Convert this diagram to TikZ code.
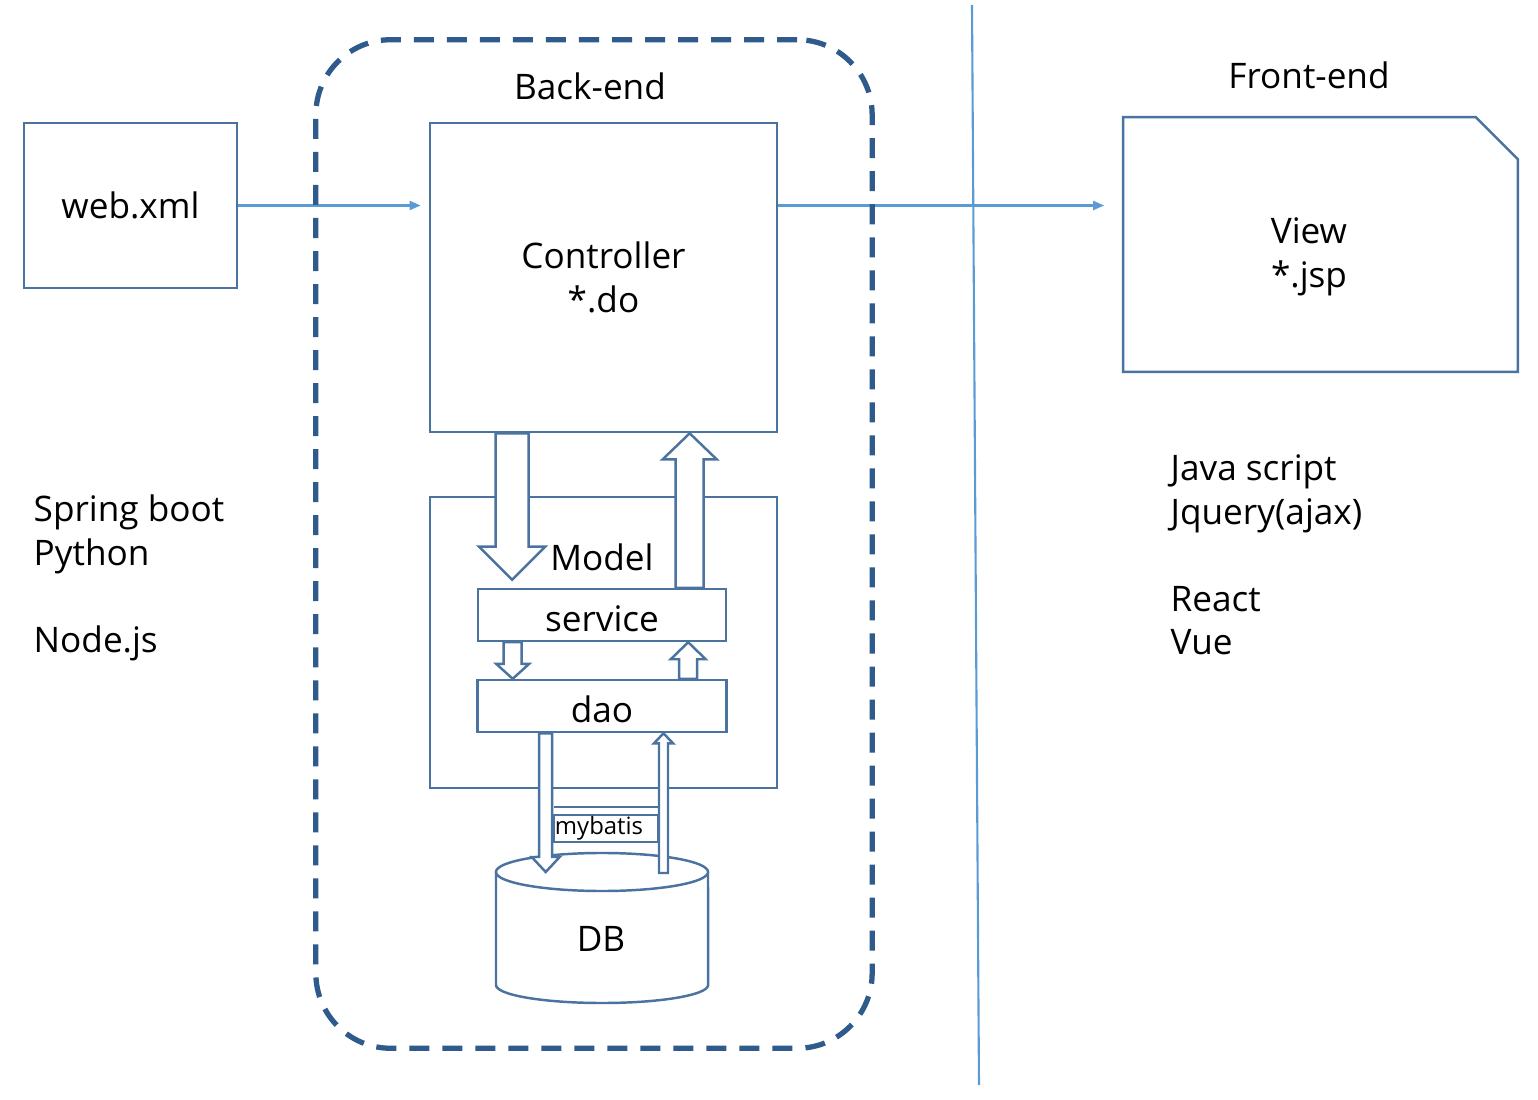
\documentclass[tikz,border=0pt]{standalone}
\usepackage{fontspec}
\setmainfont{Open Sans}
\usepackage{tikz}
\usetikzlibrary{arrows.meta,calc}

\definecolor{boxblue}{HTML}{4A73A0}
\definecolor{lineblue}{HTML}{5B9BD5}
\definecolor{frameblue}{HTML}{2F5A8C}

\tikzset{
  every node/.style={font=\fontsize{10}{12.4}\selectfont},
  outl/.style={draw=boxblue, line width=0.7pt},
  box/.style={outl, fill=white, inner sep=0pt, align=center},
  txt/.style={inner sep=0pt, align=left},
  wire/.style={draw=lineblue, line width=0.6pt, -{Triangle[length=0.11cm,width=0.09cm]}},
  blockarr/.style={outl, fill=white, line join=miter},
  dashframe/.style={draw=frameblue, line width=1.5pt, dash pattern=on 0.2cm off 0.13cm, rounded corners=0.75cm},
}

% hollow block arrow: from, tip, half shaft, half head, head base offset
\newcommand{\blockarrow}[5]{%
  \draw[blockarr] let \p1=(#1), \p2=(#2) in
    (\x1-#3,\y1) -- (\x1-#3,\y2#5) -- (\x1-#4,\y2#5) -- (\x1,\y2)
    -- (\x1+#4,\y2#5) -- (\x1+#3,\y2#5) -- (\x1+#3,\y1) -- cycle;}

\begin{document}
\begin{tikzpicture}[x=0.01cm, y=-0.01cm, node distance = 0.91cm]
  \useasboundingbox (0,0) rectangle (1538,1100);

  \node (Web) [box, minimum width=2.13cm, minimum height=1.65cm] at (130.5,205.5) {web.xml};
  \node (Ctrl) [box, minimum width=3.47cm, minimum height=3.09cm] at (603.5,277.5) {Controller\\*.do};
  \node (Model) [box, minimum width=3.47cm, minimum height=2.91cm] at (603.5,642.5) {};
  \node (ModelTxt) [txt] at (602,557) {Model};
  \node (Svc) [box, minimum width=2.48cm, minimum height=0.52cm, text height=9.2pt, text depth=0pt] at (602,615) {service};
  \node (Dao) [box, below of=Svc, minimum width=2.49cm, minimum height=0.52cm, text height=9.2pt, text depth=0pt] {dao};

  \node (View) [minimum width=3.93cm, minimum height=2.53cm] at (1320.5,244.5) {};
  \draw[outl] (View.south west) -- (View.north west) -- ([xshift=-0.42cm]View.north east)
      -- ([yshift=-0.42cm]View.north east) -- (View.south east) -- cycle;
  \node (ViewTxt) [txt, align=center] at (1309,257) {View\\*.jsp};

  \node (BackEnd) [txt] at (590,86) {Back-end};
  \node (FrontEnd) [txt] at (1309,75) {Front-end};
  \node (Servers) [txt, anchor=west] at (33,578) {Spring boot\\Python\\[12.4pt]Node.js};
  \node (Clients) [txt, anchor=west] at (1170,555) {Java script\\Jquery(ajax)\\[12.4pt]React\\Vue};

  % mybatis layer
  \draw[outl] (554,807) -- (659,807);
  \node (MyB) [box, minimum width=1.04cm, minimum height=0.27cm, text width=1.02cm, align=left,
      inner xsep=0.01cm, font=\fontsize{6.8}{8}\selectfont] at (606,828.5) {mybatis};

  % DB
  \coordinate (DBtop) at (602,872);
  \draw[outl, fill=white] (496,872) -- (496,985)
      arc[start angle=180, end angle=360, x radius=1.06cm, y radius=0.18cm] -- (708,872);
  \draw[outl, fill=white] (DBtop) ellipse [x radius=1.06cm, y radius=0.19cm];
  \node (DB) [txt] at (601,939) {DB};

  \blockarrow{$(Ctrl.south west)+(83.5,0)$}{$(Model.north west)+(83.5,84)$}{0.165cm}{0.33cm}{+0.33cm}
  \blockarrow{$(Svc.north west)+(213,0)$}{$(Ctrl.south west)+(261,0)$}{0.14cm}{0.27cm}{-0.26cm}
  \blockarrow{$(Svc.south west)+(36,0)$}{$(Dao.north west)+(36,0)$}{0.09cm}{0.165cm}{+0.15cm}
  \blockarrow{$(Dao.north west)+(212,0)$}{$(Svc.south west)+(212,0)$}{0.09cm}{0.175cm}{-0.17cm}
  \blockarrow{$(Dao.south west)+(69.5,0)$}{$(DBtop)+(-54.5,0)$}{0.065cm}{0.14cm}{+0.15cm}
  \blockarrow{$(DBtop)+(61.5,1)$}{$(Dao.south west)+(185.5,0)$}{0.045cm}{0.095cm}{-0.10cm}

  \draw[wire, shorten >=0.08cm] (Web.east) -- (Web.east -| Ctrl.west);
  \draw[wire, shorten >=0.19cm] (Web.east -| Ctrl.east) -- (Web.east -| View.west);
  \draw[draw=lineblue, line width=0.6pt] (972,5) -- (979,1085);

  \node (BE) [dashframe, minimum width=5.56cm, minimum height=10.08cm] at (594,544) {};
\end{tikzpicture}
\end{document}
